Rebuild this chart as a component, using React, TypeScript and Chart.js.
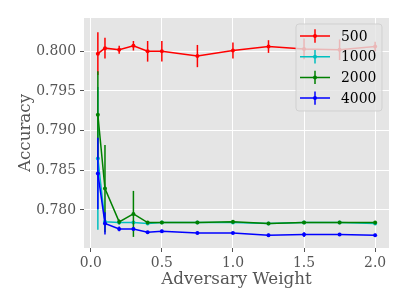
import React, { useEffect, useRef } from 'react';
import { Chart, registerables } from 'chart.js';

Chart.register(...registerables);

const weights = [0.05, 0.1, 0.2, 0.3, 0.4, 0.5, 0.75, 1.0, 1.25, 1.5, 1.75, 2.0];

const acc500 = [0.7997, 0.8004, 0.8002, 0.8007, 0.8000, 0.8000, 0.7994, 0.8001, 0.8006, 0.8003, 0.8002, 0.8006];
const err500 = [0.0027, 0.0013, 0.0005, 0.0006, 0.0013, 0.0013, 0.0014, 0.0010, 0.0008, 0.0013, 0.0013, 0.0006];

const acc1000 = [0.7865, 0.7785, 0.7784, 0.7784, 0.7783, 0.7784, 0.7784, 0.7784, 0.7783, 0.7784, 0.7784, 0.7783];
const err1000 = [0.0090, 0.0003, 0.0002, 0.0002, 0.0002, 0.0001, 0.0001, 0.0001, 0.0001, 0.0001, 0.0001, 0.0001];

const acc2000 = [0.7920, 0.7827, 0.7785, 0.7795, 0.7784, 0.7784, 0.7784, 0.7785, 0.7783, 0.7784, 0.7784, 0.7784];
const err2000 = [0.0055, 0.0055, 0.0003, 0.0029, 0.0002, 0.0001, 0.0001, 0.0002, 0.0001, 0.0001, 0.0001, 0.0002];

const acc4000 = [0.7846, 0.7783, 0.7776, 0.7776, 0.7772, 0.7773, 0.7771, 0.7771, 0.7768, 0.7769, 0.7769, 0.7768];
const err4000 = [0.0045, 0.0014, 0.0003, 0.0002, 0.0001, 0.0002, 0.0001, 0.0001, 0.0002, 0.0003, 0.0001, 0.0002];

const seriesLabels = ['500', '1000', '2000', '4000'];
const seriesColors = ['#ff0000', '#00bfbf', '#008000', '#0000ff'];

const xTicks = [0, 0.5, 1.0, 1.5, 2.0];
const yTicks = [0.78, 0.785, 0.79, 0.795, 0.8];

const xTitle = 'Adversary Weight';
const yTitle = 'Accuracy';

const FONT = 'DejaVu Serif';

export default function App() {
  const ref = useRef<HTMLCanvasElement>(null);

  useEffect(() => {
    const values = [acc500, acc1000, acc2000, acc4000];
    const errors = [err500, err1000, err2000, err4000];

    const datasets = seriesLabels.map((label, i) => ({
      label,
      data: weights.map((w, j) => ({ x: w, y: values[i][j] })),
      errors: errors[i],
      borderColor: seriesColors[i],
      backgroundColor: seriesColors[i],
      borderWidth: 1.5,
      pointRadius: 2,
      pointHoverRadius: 2,
      pointBorderWidth: 0,
      tension: 0,
      fill: false,
      order: 3 - i,
    }));

    const bgPlugin = {
      id: 'bg',
      beforeDraw(chart: any) {
        const { ctx, chartArea: a } = chart;
        ctx.save();
        ctx.fillStyle = '#e5e5e5';
        ctx.fillRect(a.left, a.top, a.right - a.left, a.bottom - a.top);
        ctx.restore();
      },
    };

    const errPlugin = {
      id: 'errbars',
      afterDatasetDraw(chart: any, args: any) {
        const ds = chart.data.datasets[args.index];
        const { ctx, chartArea: a } = chart;
        const xs = chart.scales.x;
        const ys = chart.scales.y;
        ctx.save();
        ctx.beginPath();
        ctx.rect(a.left, a.top, a.right - a.left, a.bottom - a.top);
        ctx.clip();
        ctx.strokeStyle = ds.borderColor;
        ctx.lineWidth = 1.5;
        ds.data.forEach((p: any, j: number) => {
          const e = ds.errors[j];
          const px = xs.getPixelForValue(p.x);
          ctx.beginPath();
          ctx.moveTo(px, ys.getPixelForValue(p.y - e));
          ctx.lineTo(px, ys.getPixelForValue(p.y + e));
          ctx.stroke();
        });
        ctx.restore();
      },
    };

    const decoPlugin = {
      id: 'deco',
      afterDraw(chart: any) {
        const { ctx, chartArea: a } = chart;
        ctx.save();
        // axis titles
        ctx.fillStyle = '#555555';
        ctx.font = `16.7px "${FONT}"`;
        ctx.textAlign = 'center';
        ctx.textBaseline = 'middle';
        ctx.fillText(xTitle, (a.left + a.right) / 2, a.bottom + 32);
        ctx.save();
        ctx.translate(a.left - 58, (a.top + a.bottom) / 2);
        ctx.rotate(-Math.PI / 2);
        ctx.fillText(yTitle, 0, 0);
        ctx.restore();

        // legend
        const bw = 86;
        const bh = 87;
        const bx = a.right - 7 - bw;
        const by = a.top + 6;
        const r = 3;
        ctx.beginPath();
        ctx.moveTo(bx + r, by);
        ctx.lineTo(bx + bw - r, by);
        ctx.arcTo(bx + bw, by, bx + bw, by + r, r);
        ctx.lineTo(bx + bw, by + bh - r);
        ctx.arcTo(bx + bw, by + bh, bx + bw - r, by + bh, r);
        ctx.lineTo(bx + r, by + bh);
        ctx.arcTo(bx, by + bh, bx, by + bh - r, r);
        ctx.lineTo(bx, by + r);
        ctx.arcTo(bx, by, bx + r, by, r);
        ctx.closePath();
        ctx.fillStyle = 'rgba(229,229,229,0.8)';
        ctx.fill();
        ctx.strokeStyle = 'rgba(204,204,204,0.8)';
        ctx.lineWidth = 1;
        ctx.stroke();

        ctx.font = `13.9px "${FONT}"`;
        ctx.textAlign = 'left';
        ctx.textBaseline = 'middle';
        chart.data.datasets.forEach((ds: any, i: number) => {
          const cy = by + 12 + i * 20.7;
          const lx0 = bx + 4;
          const lx1 = bx + 34;
          const mx = (lx0 + lx1) / 2;
          ctx.strokeStyle = ds.borderColor;
          ctx.lineWidth = 1.5;
          ctx.beginPath();
          ctx.moveTo(lx0, cy);
          ctx.lineTo(lx1, cy);
          ctx.moveTo(mx, cy - 6.7);
          ctx.lineTo(mx, cy + 6.7);
          ctx.stroke();
          ctx.fillStyle = ds.borderColor;
          ctx.beginPath();
          ctx.arc(mx, cy, 2, 0, Math.PI * 2);
          ctx.fill();
          ctx.fillStyle = '#000000';
          ctx.fillText(ds.label, bx + 45, cy + 1);
        });
        ctx.restore();
      },
    };

    const tickFont = { family: FONT, size: 13.9 };

    const chart = new Chart(ref.current as HTMLCanvasElement, {
      type: 'line',
      data: { datasets: datasets as any },
      options: {
        animation: false,
        responsive: false,
        layout: { padding: { top: 18, right: 18, left: 0, bottom: 0 } },
        plugins: { legend: { display: false }, tooltip: { enabled: false } },
        scales: {
          x: {
            type: 'linear',
            min: -0.0475,
            max: 2.0975,
            afterBuildTicks: (s: any) => {
              s.ticks = xTicks.map((v) => ({ value: v }));
            },
            afterFit: (s: any) => {
              s.height = 57;
            },
            ticks: {
              color: '#555555',
              font: tickFont,
              padding: 3,
              maxRotation: 0,
              autoSkip: false,
              callback: (v: any) => Number(v).toFixed(1),
            },
            grid: { color: '#ffffff', lineWidth: 1, tickColor: '#555555', tickLength: 4 },
            border: { display: false },
          },
          y: {
            type: 'linear',
            min: 0.7752,
            max: 0.8042,
            afterBuildTicks: (s: any) => {
              s.ticks = yTicks.map((v) => ({ value: v }));
            },
            afterFit: (s: any) => {
              s.width = 84;
            },
            ticks: {
              color: '#555555',
              font: tickFont,
              padding: 4,
              autoSkip: false,
              callback: (v: any) => Number(v).toFixed(3),
            },
            grid: { color: '#ffffff', lineWidth: 1, tickColor: '#555555', tickLength: 4 },
            border: { display: false },
          },
        },
      },
      plugins: [bgPlugin, errPlugin, decoPlugin],
    });

    return () => chart.destroy();
  }, []);

  return (
    <div style={{ position: 'absolute', left: 0, top: 0, width: 407, height: 305 }}>
      <canvas ref={ref} width={407} height={305} style={{ display: 'block', width: 407, height: 305 }} />
    </div>
  );
}
